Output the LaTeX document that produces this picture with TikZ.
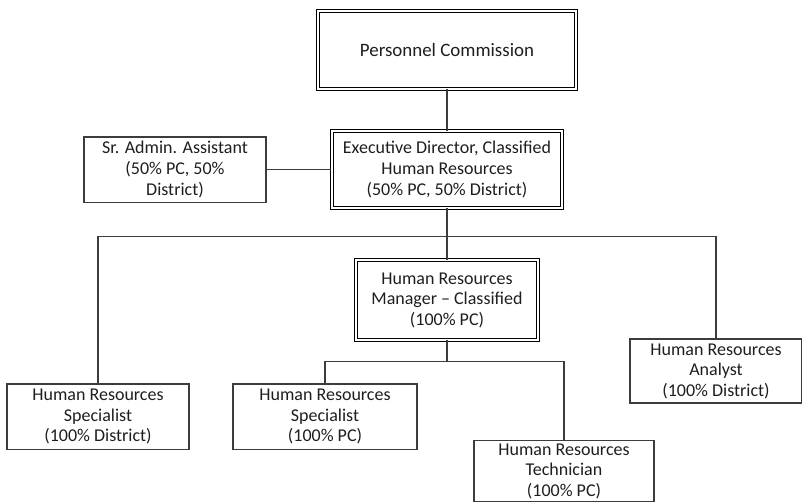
\documentclass[tikz,border=0pt]{standalone}
\usepackage{fontspec}
\setmainfont{Carlito}
\definecolor{linegray}{RGB}{60,60,60}
\definecolor{textgray}{RGB}{30,30,30}

\begin{document}
\begin{tikzpicture}[x=0.75pt, y=-0.75pt,
    box/.style={draw=linegray, line width=1pt, align=center, inner sep=0pt,
        text=textgray, font=\fontsize{13.5}{15.4}\selectfont},
    dbox/.style={box, draw=black, double, double distance=1.6pt, line width=0.8pt},
    link/.style={draw=linegray, line width=1pt}]
    \useasboundingbox (0,0) rectangle (802,501);
    \clip (0,0) rectangle (802,501);

    \node[dbox, minimum width=193pt, minimum height=58pt, font=\fontsize{14.2}{16}\selectfont] (pc) at (447,50) {Personnel Commission};
    \node[dbox, minimum width=173pt, minimum height=57.5pt] (exec) at (447,169.5)
        {Executive Director, Classified\\Human Resources\\(50\% PC, 50\% District)};
    \node[box, minimum width=136.5pt, minimum height=49pt] (admin) at (175,169.5)
        {Sr. Admin. Assistant\\(50\% PC, 50\%\\District)};
    \node[dbox, minimum width=136pt, minimum height=59.5pt] (mgr) at (447,300)
        {Human Resources\\Manager -- Classified\\(100\% PC)};

    \node[box, minimum width=136.5pt, minimum height=49pt] (spec1) at (98,416.5)
        {Human Resources\\Specialist\\(100\% District)};
    \node[box, minimum width=138pt, minimum height=49pt] (spec2) at (325,416.5)
        {Human Resources\\Specialist\\(100\% PC)};
    \node[box, minimum width=135pt, minimum height=46pt] (tech) at (564,471)
        {Human Resources\\Technician\\(100\% PC)};
    \node[box, minimum width=129pt, minimum height=48pt] (analyst) at (716,371)
        {Human Resources\\Analyst\\(100\% District)};

    \draw[link] (pc) -- (exec);
    \draw[link] (admin) -- (exec);
    \draw[link] (exec.south) -- ++(0,28) coordinate (bus1);
    \draw[link] (spec1.north) |- (bus1) -| (analyst.north);
    \draw[link] (bus1) -- (mgr);
    \draw[link] (mgr.south) -- ++(0,21) coordinate (bus2);
    \draw[link] (spec2.north) |- (bus2) -| (tech.north);
\end{tikzpicture}
\end{document}
